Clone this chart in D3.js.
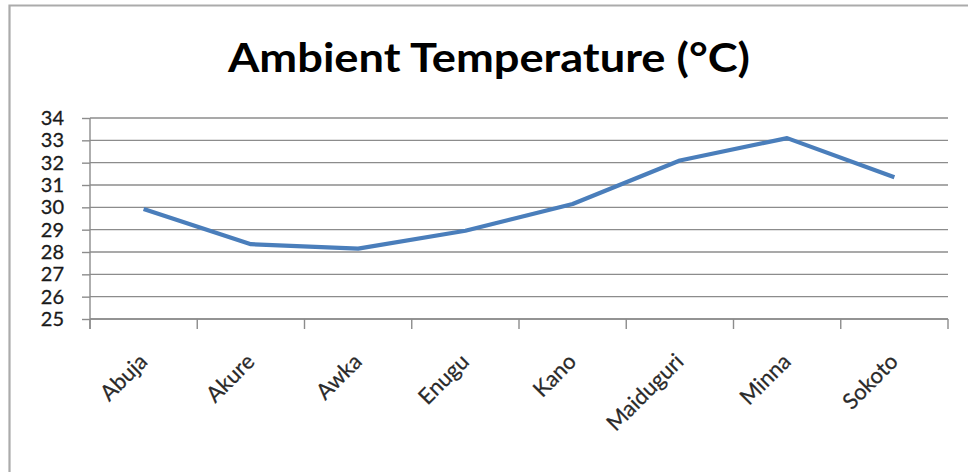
<!DOCTYPE html>
<html>
<head>
<meta charset="utf-8">
<script src="https://cdn.jsdelivr.net/npm/d3@7"></script>
<style>
  html, body { margin: 0; padding: 0; background: #fff; }
  svg { display: block; }
</style>
</head>
<body>
<svg id="chart" width="968" height="472"></svg>
<script>
const chartTitle = "Ambient Temperature (°C)";
const cities = ["Abuja", "Akure", "Awka", "Enugu", "Kano", "Maiduguri", "Minna", "Sokoto"];
const temperatures = [29.93, 28.35, 28.15, 28.95, 30.15, 32.1, 33.1, 31.35];
const yTicks = [25, 26, 27, 28, 29, 30, 31, 32, 33, 34];

const svg = d3.select("#chart");
const W = 968, H = 472;
const plot = { left: 90, right: 948, top: 118, bottom: 319 };
const labelFont = "Lato, 'Open Sans', sans-serif";

// frame
svg.append("path")
  .attr("d", `M9.5,${H} L9.5,5.5 L${W},5.5`)
  .attr("fill", "none")
  .attr("stroke", "#ababab")
  .attr("stroke-width", 2.2);

// title
svg.append("text")
  .attr("x", 489)
  .attr("y", 72)
  .attr("text-anchor", "middle")
  .attr("font-family", labelFont)
  .attr("font-weight", 700)
  .attr("font-size", 41)
  .attr("fill", "#000")
  .attr("textLength", 522)
  .attr("lengthAdjust", "spacingAndGlyphs")
  .text(chartTitle);

const x = d3.scaleBand().domain(cities).range([plot.left, plot.right]).padding(0);
const y = d3.scaleLinear().domain([25, 34]).range([plot.bottom, plot.top]);

const gridColor = "#8c8c8c";

// gridlines
svg.append("g")
  .selectAll("line")
  .data(yTicks)
  .join("line")
  .attr("x1", plot.left)
  .attr("x2", plot.right)
  .attr("y1", d => y(d))
  .attr("y2", d => y(d))
  .attr("stroke", gridColor)
  .attr("stroke-width", 1.4);

// y axis
const yAxis = svg.append("g")
  .attr("transform", `translate(${plot.left},0)`)
  .call(d3.axisLeft(y).tickValues(yTicks).tickFormat(d3.format("d")).tickSize(8).tickPadding(18).tickSizeOuter(0));
yAxis.select(".domain").remove();
yAxis.append("line")
  .attr("x1", 0).attr("x2", 0)
  .attr("y1", plot.top).attr("y2", plot.bottom + 10)
  .attr("stroke", gridColor).attr("stroke-width", 1.4);
yAxis.selectAll(".tick line").attr("stroke", gridColor).attr("stroke-width", 1.4);
yAxis.selectAll(".tick text")
  .attr("font-family", labelFont)
  .attr("font-size", 20)
  .attr("fill", "#1a1a1a")
  .attr("stroke", "#1a1a1a")
  .attr("stroke-width", 0.3);

// x axis (ticks at category boundaries)
const xg = svg.append("g");
const boundaries = cities.map(c => x(c)).concat([x(cities[cities.length - 1]) + x.bandwidth()]);
xg.append("line")
  .attr("x1", plot.left).attr("x2", plot.right)
  .attr("y1", plot.bottom).attr("y2", plot.bottom)
  .attr("stroke", gridColor).attr("stroke-width", 1.4);
xg.selectAll("line.tk")
  .data(boundaries)
  .join("line")
  .attr("class", "tk")
  .attr("x1", d => d).attr("x2", d => d)
  .attr("y1", plot.bottom).attr("y2", plot.bottom + 10)
  .attr("stroke", gridColor).attr("stroke-width", 1.4);

xg.selectAll("text")
  .data(cities)
  .join("text")
  .attr("transform", d => `translate(${x(d) + x.bandwidth() / 2 + 5},363) rotate(-45)`)
  .attr("text-anchor", "end")
  .attr("font-family", labelFont)
  .attr("font-size", 22)
  .attr("fill", "#2a2a2a")
  .attr("stroke", "#2a2a2a")
  .attr("stroke-width", 0.25)
  .text(d => d);

// line
const line = d3.line()
  .x((d, i) => x(cities[i]) + x.bandwidth() / 2)
  .y(d => y(d));

svg.append("path")
  .datum(temperatures)
  .attr("d", line)
  .attr("fill", "none")
  .attr("stroke", "#4a7ebb")
  .attr("stroke-width", 4.2)
  .attr("stroke-linejoin", "round");
</script>
</body>
</html>
